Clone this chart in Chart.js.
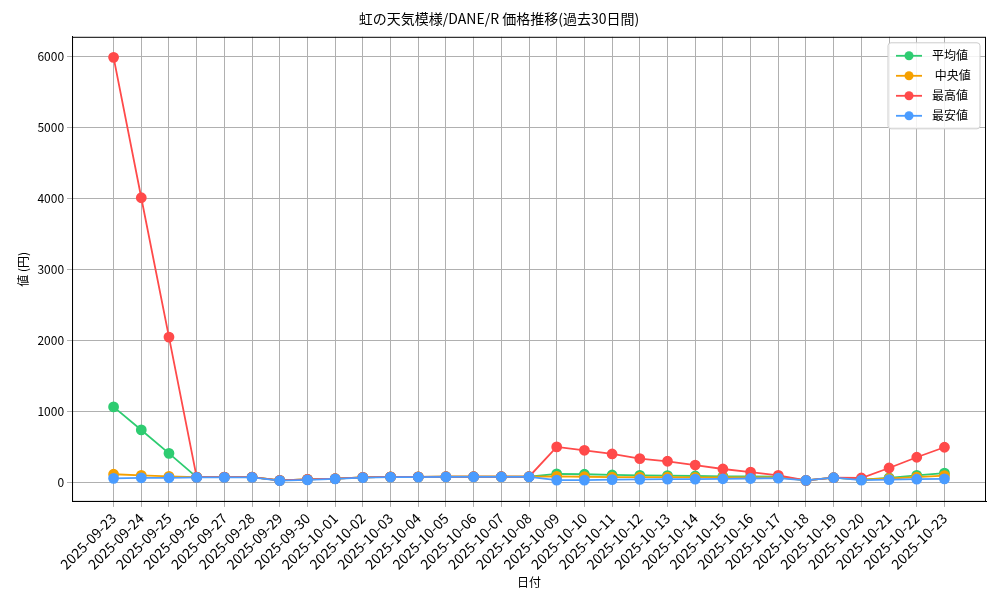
<!DOCTYPE html>
<html><head><meta charset="utf-8">
<script src="https://cdn.jsdelivr.net/npm/chart.js@4/dist/chart.umd.min.js"></script>
<style>body{margin:0;background:#fff}#wrap{width:1000px;height:600px}</style>
</head><body><div id="wrap"><canvas id="c"></canvas></div>
<script>
const dates = ['2025-09-23','2025-09-24','2025-09-25','2025-09-26','2025-09-27','2025-09-28','2025-09-29','2025-09-30','2025-10-01','2025-10-02','2025-10-03','2025-10-04','2025-10-05','2025-10-06','2025-10-07','2025-10-08','2025-10-09','2025-10-10','2025-10-11','2025-10-12','2025-10-13','2025-10-14','2025-10-15','2025-10-16','2025-10-17','2025-10-18','2025-10-19','2025-10-20','2025-10-21','2025-10-22','2025-10-23'];
const avgValues = [1060,735,405,70,70,70,24,38,47,66,72,72,75,75,75,75,115,110,100,95,90,85,80,80,75,24,61,35,60,95,125];
const medianValues = [110,95,80,70,70,70,24,38,47,66,72,72,75,75,75,75,80,75,70,70,70,65,65,65,65,24,61,35,50,70,90];
const maxValues = [5990,4010,2045,70,70,70,24,38,47,66,72,72,75,75,75,75,496,448,396,330,293,240,184,141,94,24,61,57,198,350,491];
const minValues = [52,60,60,65,65,65,20,30,45,62,70,70,72,72,72,72,28,28,35,38,40,42,46,50,55,24,61,28,35,40,45];
const yTicks = [0,1000,2000,3000,4000,5000,6000];

const FONT = '"Noto Sans CJK JP", "DejaVu Sans", sans-serif';
Chart.defaults.font.family = FONT;
Chart.defaults.color = '#000';

function ds(label, values, color, order) {
  return { label, data: values.map((v, i) => ({ x: i, y: v })), order,
    borderColor: color, backgroundColor: color, pointRadius: 4.5,
    pointHoverRadius: 5, borderWidth: 1.8, tension: 0 };
}

const frameAndLegend = {
  id: 'frameAndLegend',
  afterDraw(chart) {
    const c = chart.ctx, a = chart.chartArea;
    c.save();
    c.strokeStyle = '#000'; c.lineWidth = 1;
    c.strokeRect(a.left + 0.5, a.top + 0.5, a.right - a.left - 1, a.bottom - a.top - 1);
    const items = chart.data.datasets;
    const w = 92, h = 86, x = a.right - w - 6, y = a.top + 6;
    c.fillStyle = 'rgba(255,255,255,0.85)';
    c.strokeStyle = '#ccc';
    c.beginPath(); c.roundRect(x, y, w, h, 3); c.fill(); c.stroke();
    c.font = '12px ' + FONT;
    c.textBaseline = 'middle';
    items.forEach((d, i) => {
      const yy = y + 13 + i * 20;
      c.strokeStyle = d.borderColor; c.lineWidth = 1.8;
      c.beginPath(); c.moveTo(x + 8, yy); c.lineTo(x + 34, yy); c.stroke();
      c.fillStyle = d.borderColor;
      c.beginPath(); c.arc(x + 21, yy, 4.5, 0, Math.PI * 2); c.fill();
      c.fillStyle = '#000';
      c.fillText(d.label, x + 44, yy);
    });
    c.restore();
  }
};

new Chart(document.getElementById('c'), {
  type: 'line',
  data: {
    datasets: [
      ds('平均値', avgValues, '#2ecc71', 4),
      ds(' 中央値', medianValues, '#f5a000', 3),
      ds('最高値', maxValues, '#ff4a4a', 2),
      ds('最安値', minValues, '#4a9cff', 1),
    ],
  },
  options: {
    responsive: true, maintainAspectRatio: false, animation: false,
    layout: { padding: { left: 12, right: 14, top: 2, bottom: 10 } },
    plugins: {
      legend: { display: false },
      title: { display: true, text: '虹の天気模様/DANE/R 価格推移(過去30日間)', font: { size: 14, weight: 'normal' }, padding: { top: 8, bottom: 10 } },
    },
    scales: {
      x: {
        type: 'linear', min: -1.5, max: dates.length - 1 + 1.5,
        title: { display: true, text: '日付', font: { size: 12 }, padding: 0 },
        afterBuildTicks: (ax) => { ax.ticks = dates.map((d, i) => ({ value: i })); },
        ticks: { maxRotation: 45, minRotation: 45, autoSkip: false, font: { size: 14 },
          callback: (v) => dates[v] },
        grid: { color: '#b0b0b0', tickLength: 5 },
        border: { color: '#000' },
      },
      y: {
        min: -280, max: 6280,
        title: { display: true, text: '値 (円)', font: { size: 12 } },
        afterBuildTicks: (ax) => { ax.ticks = yTicks.map(v => ({ value: v })); },
        ticks: { font: { size: 12 }, callback: (v) => String(v) },
        grid: { color: '#b0b0b0', tickLength: 5 },
        border: { color: '#000' },
      },
    },
  },
  plugins: [frameAndLegend],
});
</script></body></html>
